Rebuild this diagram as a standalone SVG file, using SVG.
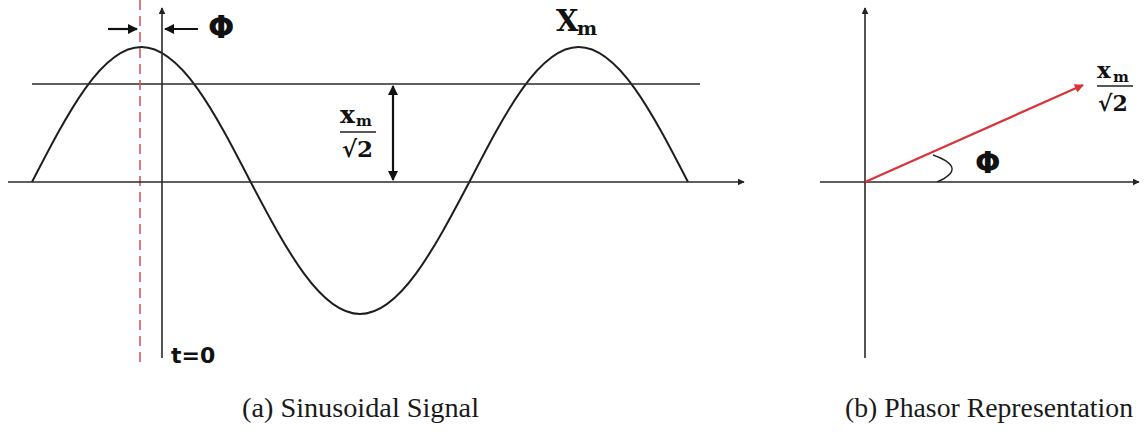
<svg xmlns="http://www.w3.org/2000/svg" width="1146" height="432" viewBox="0 0 1146 432">
  <defs>
    <marker id="ah" viewBox="0 0 10 10" refX="9" refY="5" markerWidth="7" markerHeight="7" markerUnits="userSpaceOnUse" orient="auto">
      <path d="M0,0 L10,5 L0,10 Z" fill="#222"/>
    </marker>
    <marker id="ahb" viewBox="0 0 10 10" refX="9" refY="5" markerWidth="10" markerHeight="10" markerUnits="userSpaceOnUse" orient="auto-start-reverse">
      <path d="M0,0 L10,5 L0,10 Z" fill="#111"/>
    </marker>
    <marker id="ahr" viewBox="0 0 10 10" refX="9" refY="5" markerWidth="11" markerHeight="9" markerUnits="userSpaceOnUse" orient="auto">
      <path d="M0,0 L10,5 L0,10 Z" fill="#d8343a"/>
    </marker>
  </defs>
  <style>
    .axis { stroke: #2a2a2a; stroke-width: 1.6; fill: none; }
    .wave { stroke: #1e1e1e; stroke-width: 2; fill: none; }
    .dash { stroke: #d45a5a; stroke-width: 1.6; stroke-dasharray: 10 6; fill: none; }
    .arr { stroke: #111; stroke-width: 2.2; fill: none; }
    .phasor { stroke: #d8343a; stroke-width: 2.2; fill: none; }
    .sym { font-family: "DejaVu Sans", "Liberation Sans", sans-serif; font-weight: bold; fill: #111; }
    .math { font-family: "DejaVu Serif", "Liberation Serif", serif; font-weight: bold; fill: #111; }
    .cap { font-family: "Liberation Serif", "Times New Roman", serif; font-size: 27px; fill: #1a1a1a; }
  </style>
  <rect width="1146" height="432" fill="#ffffff"/>

  <g id="sinusoid-panel">
    <g id="wave">
      <path class="wave" d="M32,182 C67.65,112.84 101.76,47 141.33,47 C180.9,47 215.02,112.84 250.67,182 C286.32,249.62 320.43,314 360,314 C399.57,314 433.68,249.62 469.33,182 C504.98,112.84 539.09,47 578.67,47 C618.24,47 652.35,112.84 688,182"/>
    </g>
    <g id="rms-line">
      <line class="axis" x1="32" y1="84" x2="700" y2="84"/>
    </g>
    <g id="phase-ref-line">
      <line class="dash" x1="140" y1="0" x2="140" y2="362"/>
    </g>
    <g id="label-phi-a">
      <text class="sym" x="208" y="38" font-size="31">Φ</text>
    </g>
    <g id="label-xm">
      <text class="math" x="556" y="31" font-size="29">X</text>
      <text class="math" x="577" y="35" font-size="19">m</text>
    </g>
    <g id="label-rms-a">
      <text class="math" x="340" y="123" font-size="25">x</text>
      <text class="math" x="356" y="126" font-size="15">m</text>
      <line x1="340" y1="132" x2="376" y2="132" stroke="#222" stroke-width="1.5"/>
      <text class="math" x="342" y="157" font-size="23">√2</text>
    </g>
    <g id="label-t0">
      <text class="sym" x="171" y="363" font-size="22">t=0</text>
    </g>
    <g id="caption-a">
      <text class="cap" x="242" y="417" textLength="237" lengthAdjust="spacingAndGlyphs">(a) Sinusoidal Signal</text>
    </g>
  </g>

  <g id="phasor-panel">
    <g id="label-rms-b">
      <text class="math" x="1097" y="78" font-size="23">x</text>
      <text class="math" x="1113" y="82" font-size="15">m</text>
      <line x1="1097" y1="86" x2="1133" y2="86" stroke="#222" stroke-width="1.5"/>
      <text class="math" x="1098" y="111" font-size="22">√2</text>
    </g>
    <g id="label-phi-b">
      <text class="sym" x="975" y="173" font-size="30">Φ</text>
    </g>
    <g id="angle-arc">
      <path d="M937,182 Q969,168 933,155" stroke="#222" stroke-width="1.4" fill="none"/>
    </g>
    <g id="caption-b">
      <text class="cap" x="845" y="417" textLength="288" lengthAdjust="spacingAndGlyphs">(b) Phasor Representation</text>
    </g>
  </g>

  <g id="connectors">
    <line class="axis" x1="8" y1="182" x2="744" y2="182" marker-end="url(#ah)"/>
    <line class="axis" x1="162" y1="358" x2="162" y2="8" marker-end="url(#ah)"/>
    <line class="arr" x1="108" y1="29" x2="137" y2="29" marker-end="url(#ahb)"/>
    <line class="arr" x1="198" y1="29" x2="165" y2="29" marker-end="url(#ahb)"/>
    <line class="arr" x1="393" y1="86" x2="393" y2="180" marker-start="url(#ahb)" marker-end="url(#ahb)"/>
    <line class="axis" x1="820" y1="182" x2="1139" y2="182" marker-end="url(#ah)"/>
    <line class="axis" x1="865" y1="358" x2="865" y2="8" marker-end="url(#ah)"/>
    <line class="phasor" x1="865" y1="182" x2="1083" y2="85" marker-end="url(#ahr)"/>
  </g>
</svg>
